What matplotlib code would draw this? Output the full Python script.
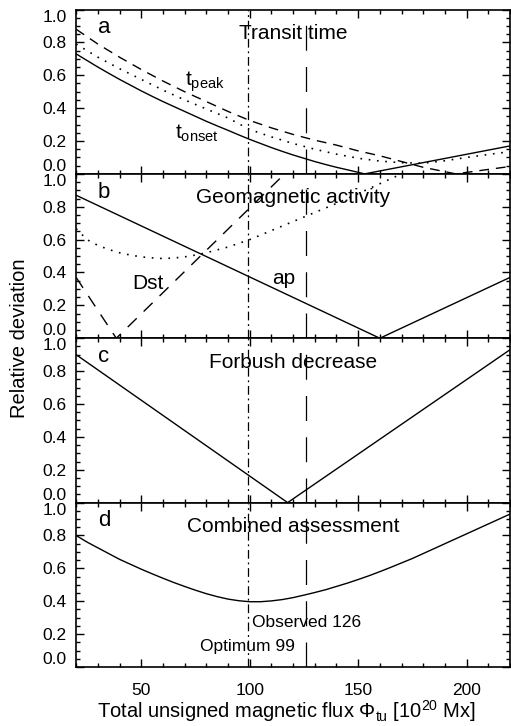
import matplotlib
matplotlib.use("Agg")
import matplotlib.pyplot as plt  # noqa: E402
from matplotlib.ticker import MultipleLocator  # noqa: E402

plt.rcParams["font.family"] = ["Liberation Sans", "DejaVu Sans"]
plt.rcParams["mathtext.fontset"] = "custom"
plt.rcParams["mathtext.rm"] = "Liberation Sans"
plt.rcParams["mathtext.it"] = "Liberation Sans:italic"

# --- data ---
flux_opt = 99
flux_obs = 126

# a: transit time
a_onset_x = [20, 25, 30, 35, 40, 45, 50, 55, 60, 65, 70, 75, 80, 85, 90, 95,
             100, 105, 110, 115, 120, 125, 130, 135, 140, 145, 153, 220]
a_onset_y = [0.73, 0.69, 0.65, 0.612, 0.575, 0.54, 0.505, 0.472, 0.44, 0.41,
             0.38, 0.35, 0.32, 0.292, 0.265, 0.237, 0.21, 0.185, 0.16, 0.137,
             0.115, 0.095, 0.075, 0.057, 0.04, 0.025, 0.0, 0.17]
a_mid_x = [20, 30, 40, 50, 60, 70, 80, 90, 100, 110, 120, 130, 140, 150, 160,
           170, 180, 190, 200, 210, 220]
a_mid_y = [0.79, 0.71, 0.64, 0.575, 0.51, 0.45, 0.395, 0.34, 0.27, 0.225,
           0.185, 0.15, 0.12, 0.095, 0.078, 0.068, 0.065, 0.08, 0.10, 0.118,
           0.135]
a_peak_x = [20, 30, 40, 50, 60, 70, 80, 90, 100, 110, 120, 130, 140, 150, 160,
            170, 180, 195, 220]
a_peak_y = [0.88, 0.79, 0.71, 0.635, 0.565, 0.5, 0.44, 0.38, 0.325, 0.28,
            0.24, 0.205, 0.175, 0.14, 0.11, 0.075, 0.04, 0.0, 0.045]

# b: geomagnetic activity
b_ap_x = [20, 160, 220]
b_ap_y = [0.87, 0.0, 0.37]
b_dst_x = [20, 38.5, 120]
b_dst_y = [0.37, 0.0, 1.05]
b_dot_x = [20, 25, 30, 35, 40, 45, 50, 55, 60, 65, 70, 75, 80, 90, 100, 110,
           120, 130, 140, 150, 160, 170, 180]
b_dot_y = [0.667, 0.60, 0.565, 0.54, 0.52, 0.506, 0.495, 0.489, 0.485, 0.488,
           0.495, 0.506, 0.52, 0.555, 0.60, 0.655, 0.71, 0.765, 0.82, 0.88,
           0.94, 1.0, 1.06]

# c: Forbush decrease
c_x = [20, 117.5, 220]
c_y = [0.9, 0.0, 0.93]

# d: combined assessment
d_x = [20, 25, 30, 35, 40, 45, 50, 55, 60, 65, 70, 75, 80, 85, 90, 95, 100,
       105, 110, 115, 120, 125, 130, 135, 140, 145, 150, 155, 160, 165, 170,
       175, 180, 185, 190, 195, 200, 205, 210, 215, 220]
d_y = [0.80, 0.76, 0.725, 0.69, 0.655, 0.625, 0.595, 0.567, 0.54, 0.514,
       0.49, 0.467, 0.446, 0.428, 0.413, 0.403, 0.397, 0.397, 0.402, 0.41,
       0.422, 0.437, 0.453, 0.47, 0.49, 0.51, 0.532, 0.555, 0.58, 0.606,
       0.633, 0.66, 0.69, 0.72, 0.75, 0.78, 0.81, 0.84, 0.87, 0.90, 0.93]

titles = ["Transit time", "Geomagnetic activity", "Forbush decrease",
          "Combined assessment"]
letters = ["a", "b", "c", "d"]

DASH = (0, (7, 5))
DOT = (0, (1, 4))
VDASH = (0, (20, 13))
VDASHDOT = (0, (7, 3, 1.5, 3))

fig = plt.figure(figsize=(5.11, 7.26), dpi=100)
left, width = 0.149, 0.849
bottom0, h = 0.0813, 0.2264
axes = []
for i in range(4):
    ax = fig.add_axes([left, bottom0 + (3 - i) * h, width, h])
    axes.append(ax)

lw = 1.0
axa, axb, axc, axd = axes
axa.plot(a_onset_x, a_onset_y, color="k", lw=lw)
axa.plot(a_mid_x, a_mid_y, color="k", lw=1.2, linestyle=DOT)
axa.plot(a_peak_x, a_peak_y, color="k", lw=lw, linestyle=DASH)
axa.text(70, 0.535, r"t$_{\rm peak}$", fontsize=15, va="baseline")
axa.text(65.5, 0.214, r"t$_{\rm onset}$", fontsize=15, va="baseline")

axb.plot(b_ap_x, b_ap_y, color="k", lw=lw)
axb.plot(b_dot_x, b_dot_y, color="k", lw=1.2, linestyle=DOT)
axb.plot(b_dst_x, b_dst_y, color="k", lw=lw, linestyle=(0, (9, 7)))
axb.text(45.8, 0.302, "Dst", fontsize=15, va="baseline")
axb.text(110.2, 0.333, "ap", fontsize=15, va="baseline")

axc.plot(c_x, c_y, color="k", lw=lw)

axd.plot(d_x, d_y, color="k", lw=lw)
axd.text(flux_obs, 0.245, f"Observed {flux_obs}", fontsize=12.5,
         ha="center", va="baseline")
axd.text(flux_opt, 0.097, f"Optimum {flux_opt}", fontsize=12.5,
         ha="center", va="baseline")

for ax, title, letter in zip(axes, titles, letters):
    ax.axvline(flux_opt, color="k", lw=0.9, linestyle=VDASHDOT)
    ax.axvline(flux_obs, color="k", lw=0.9, linestyle=VDASH)
    ax.set_xlim(20, 220)
    ax.set_ylim(0, 1)
    ax.xaxis.set_major_locator(MultipleLocator(50))
    ax.xaxis.set_minor_locator(MultipleLocator(10))
    ax.yaxis.set_major_locator(MultipleLocator(0.2))
    ax.yaxis.set_minor_locator(MultipleLocator(0.05))
    ax.yaxis.set_major_formatter(plt.FuncFormatter(lambda v, _: f"{v:.1f}"))
    ax.tick_params(which="both", direction="in", top=True, right=True,
                   width=1.0)
    ax.tick_params(which="major", length=6)
    ax.tick_params(which="minor", length=3)
    ax.tick_params(axis="y", labelsize=12.5, pad=7)
    ax.tick_params(axis="x", labelsize=12.5, pad=11.5)
    for sp in ax.spines.values():
        sp.set_linewidth(1.2)
    ax.text(0.5, 0.82, title, transform=ax.transAxes, fontsize=15,
            ha="center", va="baseline")
    ax.text(0.05, 0.855, letter, transform=ax.transAxes, fontsize=16,
            ha="left", va="baseline")
    if ax is not axd:
        ax.tick_params(axis="x", labelbottom=False)

# 0.0 label sits above its tick, 1.0 below it
fig.canvas.draw()
for ax in axes:
    for tk in ax.yaxis.get_major_ticks():
        loc = tk.get_loc()
        if abs(loc) < 1e-9:
            tk.label1.set_verticalalignment("bottom")
        elif abs(loc - 1.0) < 1e-9:
            tk.label1.set_verticalalignment("top")

axd.set_xlabel(r"Total unsigned magnetic flux $\Phi_{\rm tu}$ [10$^{20}$ Mx]",
               fontsize=14.5, va="baseline")
axd.xaxis.set_label_coords(0.485, -0.31)
fig.text(0.039, 0.5344, "Relative deviation", rotation=90, fontsize=14.5,
         ha="center", va="center")

fig.savefig("out.png", dpi=100)
